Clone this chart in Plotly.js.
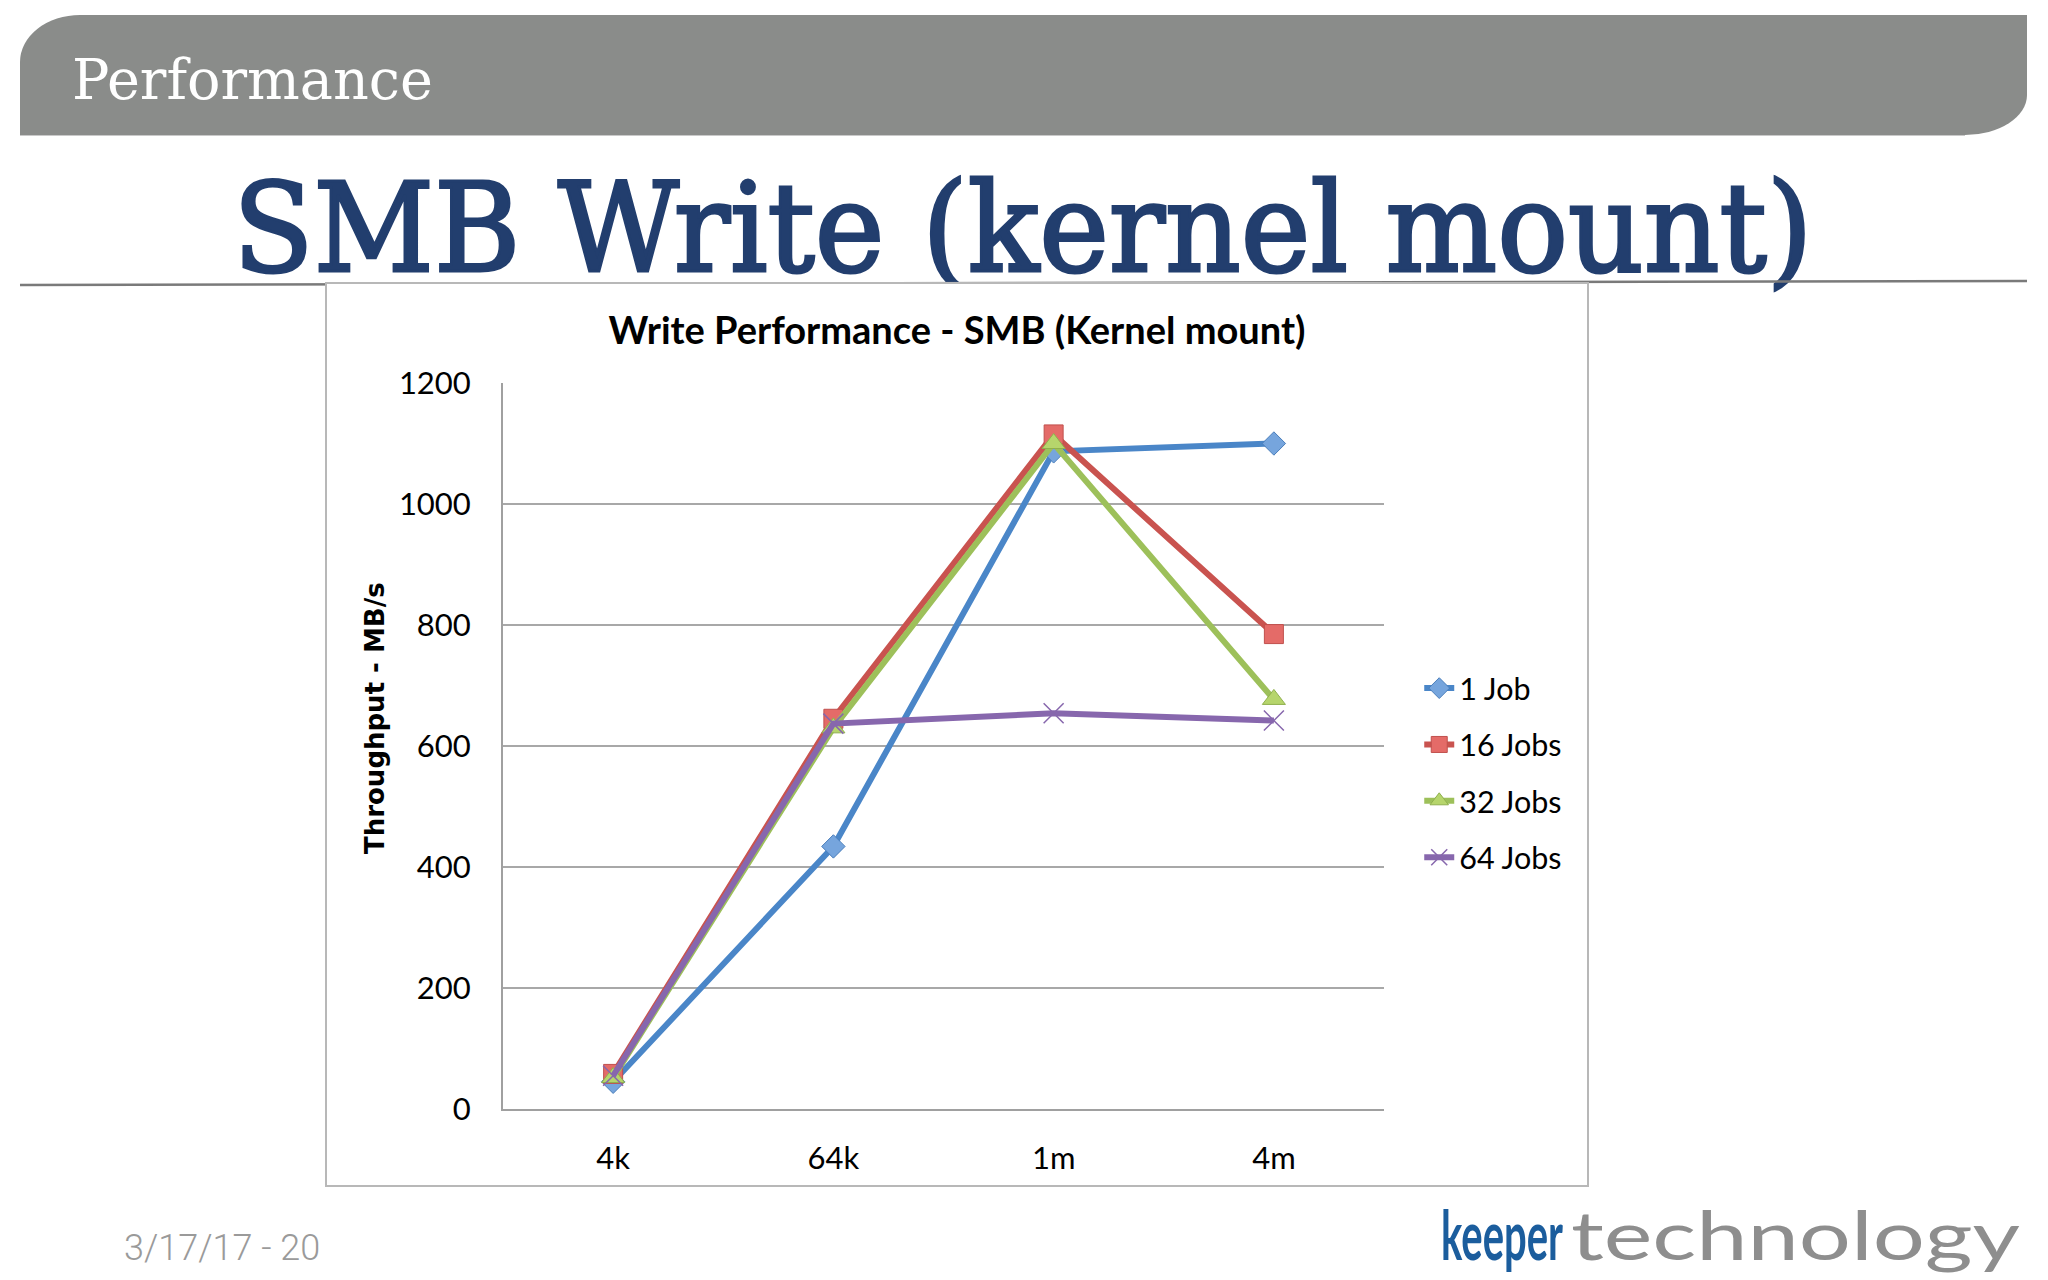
<!DOCTYPE html>
<html>
<head>
<meta charset="utf-8">
<script src="https://cdn.plot.ly/plotly-3.0.1.min.js"></script>
<style>
  html, body { margin: 0; padding: 0; background: #ffffff; }
  body { width: 2048px; height: 1280px; position: relative; overflow: hidden; }
  #deco { position: absolute; left: 0; top: 0; }
  #box { position: absolute; left: 325px; top: 282px; width: 1260px; height: 901px;
         border: 2px solid #b8b8b8; background: #ffffff; }
  #chart { width: 1260px; height: 901px; }
</style>
</head>
<body>
<svg id="deco" width="2048" height="1280" xmlns="http://www.w3.org/2000/svg">
  <path d="M20,135 L20,62 A60,47 0 0 1 80,15 L2027,15 L2027,95 A62,40 0 0 1 1965,135 Z" fill="#8a8c8a"/>
  <line x1="20" y1="135.5" x2="1965" y2="135.5" stroke="#c9c9c9" stroke-width="1"/>
  <text class="fit" data-x="72" data-y="99" data-w="361" style="font-family:'DejaVu Serif',serif;font-size:56px;" fill="#ffffff">Performance</text>
  <text class="fit" data-x="233" data-y="271" data-w="1580" style="font-family:'DejaVu Serif',serif;font-size:124px;" fill="#223e6e" stroke="#223e6e" stroke-width="3">SMB Write (kernel mount)</text>
  <line x1="20" y1="285" x2="2027" y2="281" stroke="#7a7a7a" stroke-width="2.5"/>
  <text x="124" y="1260" style="font-family:'Roboto',sans-serif;font-weight:300;font-size:36px;" fill="#9a9a9a">3/17/17 - 20</text>
  <text class="fit" data-x="1441" data-y="1260" data-w="122" style="font-family:'Lato',sans-serif;font-weight:bold;font-size:68px;" fill="#1b5d9d">keeper</text>
  <text class="fit" data-x="1571" data-y="1260" data-w="449" style="font-family:'Lato',sans-serif;font-weight:normal;font-size:68px;" fill="#8e8e8e">technology</text>
</svg>
<div id="box"><div id="chart"></div></div>
<script>
// fit decorative slide texts to their widths
document.querySelectorAll('text.fit').forEach(function (t) {
  var nat = t.getComputedTextLength() || 1;
  var sx = parseFloat(t.getAttribute('data-w')) / nat;
  t.setAttribute('transform', 'translate(' + t.getAttribute('data-x') + ',' + t.getAttribute('data-y') + ') scale(' + sx + ',1)');
});

// ---- data ----
const categories = ['4k', '64k', '1m', '4m'];
const seriesNames = ['1 Job', '16 Jobs', '32 Jobs', '64 Jobs'];
const job1 = [45, 434, 1087, 1100];
const jobs16 = [58, 645, 1115, 785];
const jobs32 = [52, 630, 1100, 677];
const jobs64 = [55, 637, 654, 642];
const yTickVals = [0, 200, 400, 600, 800, 1000, 1200];
const chartTitle = 'Write Performance - SMB (Kernel mount)';
const yTitle = 'Throughput - MB/s';

const seriesValues = [job1, jobs16, jobs32, jobs64];
const lineColors = ['#4a86c8', '#c9534f', '#9dc05a', '#8767ad'];
const markerFills = ['#76a5dd', '#e46b68', '#b6d56c', '#8767ad'];
const markerLines = ['#4a7ebb', '#c0504d', '#8fb04d', '#7a6096'];
const symbols = ['diamond', 'square', 'triangle-up', 'x-thin-open'];
const sizes = [18, 19, 20, 20];

const traces = seriesValues.map((vals, i) => ({
  type: 'scatter',
  mode: 'lines+markers',
  name: seriesNames[i],
  legendgroup: 'g' + i,
  x: categories,
  y: vals,
  line: { color: lineColors[i], width: 6 },
  marker: {
    symbol: symbols[i],
    size: sizes[i],
    color: markerFills[i],
    line: { color: markerLines[i], width: i === 3 ? 1.5 : 1 }
  }
}));

const tickFont = { family: 'Lato, Calibri, sans-serif', size: 31, color: '#000000' };

const layout = {
  width: 1260,
  height: 901,
  margin: { l: 176, r: 202.5, t: 99, b: 76, pad: 0 },
  paper_bgcolor: '#ffffff',
  plot_bgcolor: '#ffffff',
  title: {
    text: '<b>' + chartTitle + '</b>',
    font: { family: 'Lato, Calibri, sans-serif', size: 38, color: '#000000' },
    xref: 'container', x: 0.5, xanchor: 'center',
    yref: 'container', y: 0.948, yanchor: 'middle'
  },
  xaxis: {
    type: 'category',
    categoryorder: 'array',
    categoryarray: categories,
    range: [-0.5, 3.5],
    showgrid: false,
    showline: true,
    linecolor: '#a0a0a0',
    linewidth: 2,
    ticks: '',
    ticklabelstandoff: 21,
    tickfont: tickFont,
    zeroline: false,
    fixedrange: true
  },
  yaxis: {
    range: [0, 1200],
    tickvals: yTickVals,
    showgrid: true,
    gridcolor: '#a8a8a8',
    gridwidth: 1.5,
    showline: true,
    linecolor: '#a0a0a0',
    linewidth: 2,
    zeroline: false,
    ticks: '',
    ticklabelstandoff: 24,
    tickfont: tickFont,
    automargin: false,
    fixedrange: true
  },
  annotations: [{
    text: '<b>' + yTitle + '</b>',
    textangle: -90,
    xref: 'paper', yref: 'paper',
    x: -0.1452, y: 0.5386,
    xanchor: 'center', yanchor: 'middle',
    showarrow: false,
    font: { family: 'DejaVu Sans, Verdana, sans-serif', size: 26, color: '#000000' }
  }],
  showlegend: true,
  legend: {
    x: 1.04, xanchor: 'left', xref: 'paper',
    y: 0.616, yanchor: 'top', yref: 'paper',
    traceorder: 'grouped',
    tracegroupgap: 13.7,
    font: { family: 'Lato, Calibri, sans-serif', size: 30.5, color: '#000000' },
    bgcolor: 'rgba(0,0,0,0)',
    borderwidth: 0
  }
};

Plotly.newPlot('chart', traces, layout, { displayModeBar: false, staticPlot: true });
</script>
</body>
</html>
